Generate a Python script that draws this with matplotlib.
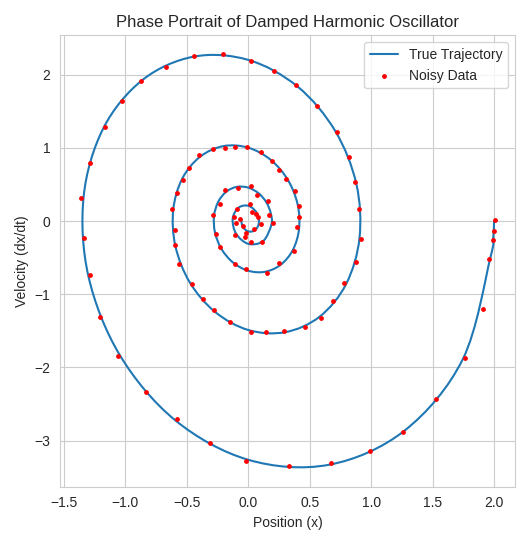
import matplotlib
matplotlib.use("Agg")
import matplotlib.pyplot as plt
import seaborn as sns
from matplotlib.path import Path
from matplotlib.patches import PathPatch
from matplotlib.lines import Line2D

# True trajectory
pos = [2.0, 1.992, 1.970, 1.746, 1.272, 0.656, 0.0, -0.595, -1.046, -1.301, -1.340, -1.179, -0.859, -0.443, 0.0,
       0.402, 0.706, 0.879, 0.905, 0.796, 0.580, 0.299, 0.0, -0.271, -0.477, -0.593, -0.611, -0.538,
       -0.392, -0.202, 0.0, 0.183, 0.322, 0.401, 0.413, 0.363, 0.264, 0.136, 0.0, -0.124, -0.218,
       -0.271, -0.279, -0.245, -0.179, -0.092, 0.0, 0.083, 0.147, 0.183, 0.188, 0.121, 0.0, -0.099,
       -0.127, -0.081, 0.0, 0.067, 0.086, 0.055, 0.0, -0.045, -0.058]
vel = [0.0, -0.25, -0.496, -1.884, -2.862, -3.330, -3.262, -2.721, -1.830, -0.753, 0.335, 1.272, 1.933, 2.249, 2.204,
       1.838, 1.236, 0.509, -0.226, -0.859, -1.306, -1.518, -1.488, -1.240, -0.835, -0.343, 0.153, 0.580,
       0.881, 1.026, 1.004, 0.837, 0.563, 0.232, -0.103, -0.392, -0.595, -0.692, -0.678, -0.566, -0.381,
       -0.157, 0.070, 0.264, 0.403, 0.469, 0.458, 0.382, 0.257, 0.106, -0.047, -0.272, -0.310, -0.173,
       0.032, 0.183, 0.210, 0.118, -0.022, -0.124, -0.140, -0.079, 0.015]

noisy_x = [2.01, 1.96, 1.76, 1.26, 0.67, -0.02, -0.58, -1.06, -1.29, -1.36, -1.17, -0.87, -0.44, 0.02,
           0.39, 0.72, 0.87, 0.92, 0.78, 0.59, 0.29, 0.02, -0.28, -0.46, -0.60, -0.62, -0.53,
           -0.40, -0.19, -0.01, 0.19, 0.31, 0.41, 0.40, 0.37, 0.25, 0.15, -0.02, -0.11, -0.23,
           -0.26, -0.29, -0.23, -0.19, -0.08, 0.02, 0.07, 0.16, 0.17, 0.20, 0.11, 0.02, -0.11,
           -0.12, -0.09, 0.01, 0.06, 0.10, 0.05, -0.02, -0.04, -0.07, 0.03, -0.03, 0.08, -0.10,
           1.91, 1.53, 0.99, 0.33, -0.31, -0.83, -1.21, -1.34, -1.29, -1.03, -0.67, -0.21,
           0.21, 0.56, 0.82, 0.90, 0.88, 0.69, 0.46, 0.14, -0.15, -0.37, -0.56, -0.60,
           -0.58, -0.48, -0.29, -0.11, 0.10, 0.25, 0.38, 0.41, 1.99, 2.00]
noisy_y = [0.01, -0.52, -1.87, -2.88, -3.31, -3.28, -2.70, -1.85, -0.74, 0.31, 1.29, 1.91, 2.26, 2.19,
           1.86, 1.22, 0.53, -0.24, -0.84, -1.33, -1.50, -1.51, -1.22, -0.86, -0.32, 0.17, 0.56,
           0.90, 1.00, 1.02, 0.82, 0.58, 0.21, -0.08, -0.41, -0.57, -0.71, -0.66, -0.59, -0.36,
           -0.18, 0.09, 0.24, 0.42, 0.45, 0.48, 0.36, 0.28, 0.08, -0.03, -0.29, -0.29, -0.19,
           0.05, 0.16, 0.23, 0.10, -0.04, -0.11, -0.16, -0.06, 0.03, 0.12, -0.21, 0.05, -0.02,
           -1.20, -2.43, -3.14, -3.35, -3.03, -2.34, -1.31, -0.23, 0.80, 1.64, 2.11, 2.28,
           2.05, 1.58, 0.88, 0.16, -0.56, -1.09, -1.45, -1.52, -1.38, -1.07, -0.58, -0.12,
           0.39, 0.73, 0.98, 1.02, 0.95, 0.70, 0.41, 0.05, -0.26, -0.13]

sns.set_style("whitegrid")
plt.rcParams["font.family"] = ["Liberation Sans", "DejaVu Sans"]
fig, ax = plt.subplots(figsize=(5.3, 5.45), dpi=100)

# smooth drawing of the trajectory through the read points (Bezier segments)
pts = list(zip(pos, vel))
verts = [pts[0]]
codes = [Path.MOVETO]
n = len(pts)
for i in range(n - 1):
    p0 = pts[max(i - 1, 0)]
    p1 = pts[i]
    p2 = pts[i + 1]
    p3 = pts[min(i + 2, n - 1)]
    c1 = (p1[0] + (p2[0] - p0[0]) / 6, p1[1] + (p2[1] - p0[1]) / 6)
    c2 = (p2[0] - (p3[0] - p1[0]) / 6, p2[1] - (p3[1] - p1[1]) / 6)
    verts += [c1, c2, p2]
    codes += [Path.CURVE4] * 3
ax.add_patch(PathPatch(Path(verts, codes), facecolor="none", edgecolor="#1f77b4", lw=1.5, zorder=2))

ax.scatter(noisy_x, noisy_y, color="red", s=6, zorder=3, label="Noisy Data")
ax.set_xlim(-1.53, 2.17)
ax.set_ylim(-3.63, 2.54)
ax.set_xlabel("Position (x)")
ax.set_ylabel("Velocity (dx/dt)")
ax.set_title("Phase Portrait of Damped Harmonic Oscillator")
handles = [Line2D([], [], color="#1f77b4", lw=1.5),
           ax.collections[0]]
ax.legend(handles, ["True Trajectory", "Noisy Data"], loc="upper right")
fig.tight_layout()
fig.savefig("out.png", dpi=100)
